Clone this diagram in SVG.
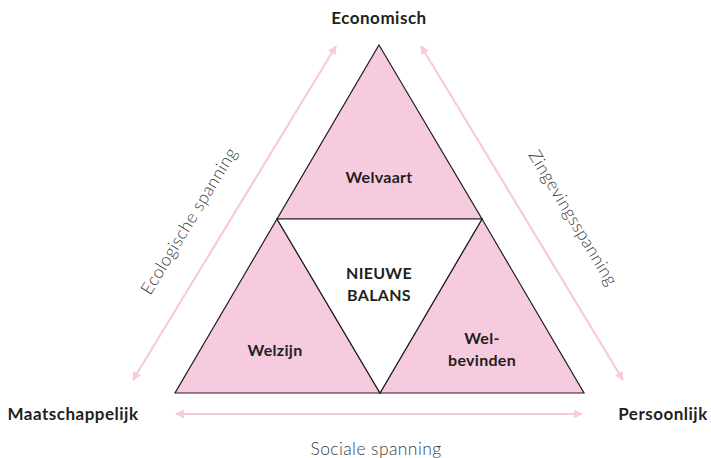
<svg xmlns="http://www.w3.org/2000/svg" width="711" height="458" viewBox="0 0 711 458">
  <defs>
    <marker id="head" viewBox="0 0 10 10" refX="9" refY="5" markerWidth="4" markerHeight="4" orient="auto-start-reverse" markerUnits="strokeWidth">
      <path d="M0,0 L10,5 L0,10 z" fill="#f7cadd"/>
    </marker>
  </defs>
  <style>
    .tri { fill: #f6cbdf; stroke: #231f20; stroke-width: 1.2; stroke-linejoin: miter; }
    .hole { fill: #ffffff; stroke: #231f20; stroke-width: 1.2; }
    .arrow { stroke: #f7cadd; stroke-width: 2.2; fill: none; marker-start: url(#head); marker-end: url(#head); }
    .lbl { font-family: Lato, "Open Sans", "Liberation Sans", sans-serif; font-weight: 700; fill: #231f20; text-anchor: middle; }
    .axis { font-size: 17px; letter-spacing: 0.5px; }
    .inner { font-size: 16px; letter-spacing: 0.3px; }
    .tension { font-family: Lato, "Open Sans", "Liberation Sans", sans-serif; font-weight: 300; font-size: 17.5px; letter-spacing: 0.4px; fill: #3a3a3a; text-anchor: middle; }
  </style>

  <!-- tension arrows -->
  <g id="connectors">
    <line class="arrow" x1="133" y1="380" x2="336" y2="46"/>
    <line class="arrow" x1="421" y1="46" x2="623" y2="380"/>
    <line class="arrow" x1="176" y1="414" x2="582" y2="414"/>
  </g>

  <!-- four sub-triangles -->
  <g id="welvaart">
    <polygon class="tri" points="379,45 482,219 277,219"/>
    <text class="lbl inner" x="379" y="183">Welvaart</text>
  </g>
  <g id="welzijn">
    <polygon class="tri" points="277,219 380,393 175,393"/>
    <text class="lbl inner" x="275" y="356">Welzijn</text>
  </g>
  <g id="welbevinden">
    <polygon class="tri" points="482,219 584,393 380,393"/>
    <text class="lbl inner" x="482" y="344">Wel-</text>
    <text class="lbl inner" x="482" y="366">bevinden</text>
  </g>
  <g id="nieuwe-balans">
    <polygon class="hole" points="277,219 482,219 380,393"/>
    <text class="lbl inner" x="379" y="279">NIEUWE</text>
    <text class="lbl inner" x="379" y="301">BALANS</text>
  </g>

  <!-- corner labels -->
  <g id="economisch">
    <text class="lbl axis" x="379" y="24">Economisch</text>
  </g>
  <g id="maatschappelijk">
    <text class="lbl axis" x="73" y="420">Maatschappelijk</text>
  </g>
  <g id="persoonlijk">
    <text class="lbl axis" x="663" y="420">Persoonlijk</text>
  </g>

  <!-- tension labels -->
  <g id="ecologische-spanning">
    <text class="tension" transform="translate(194,224) rotate(-58.7)">Ecologische spanning</text>
  </g>
  <g id="zingevingsspanning">
    <text class="tension" transform="translate(568,221) rotate(58.9)">Zingevingsspanning</text>
  </g>
  <g id="sociale-spanning">
    <text class="tension" x="376" y="455">Sociale spanning</text>
  </g>
</svg>
